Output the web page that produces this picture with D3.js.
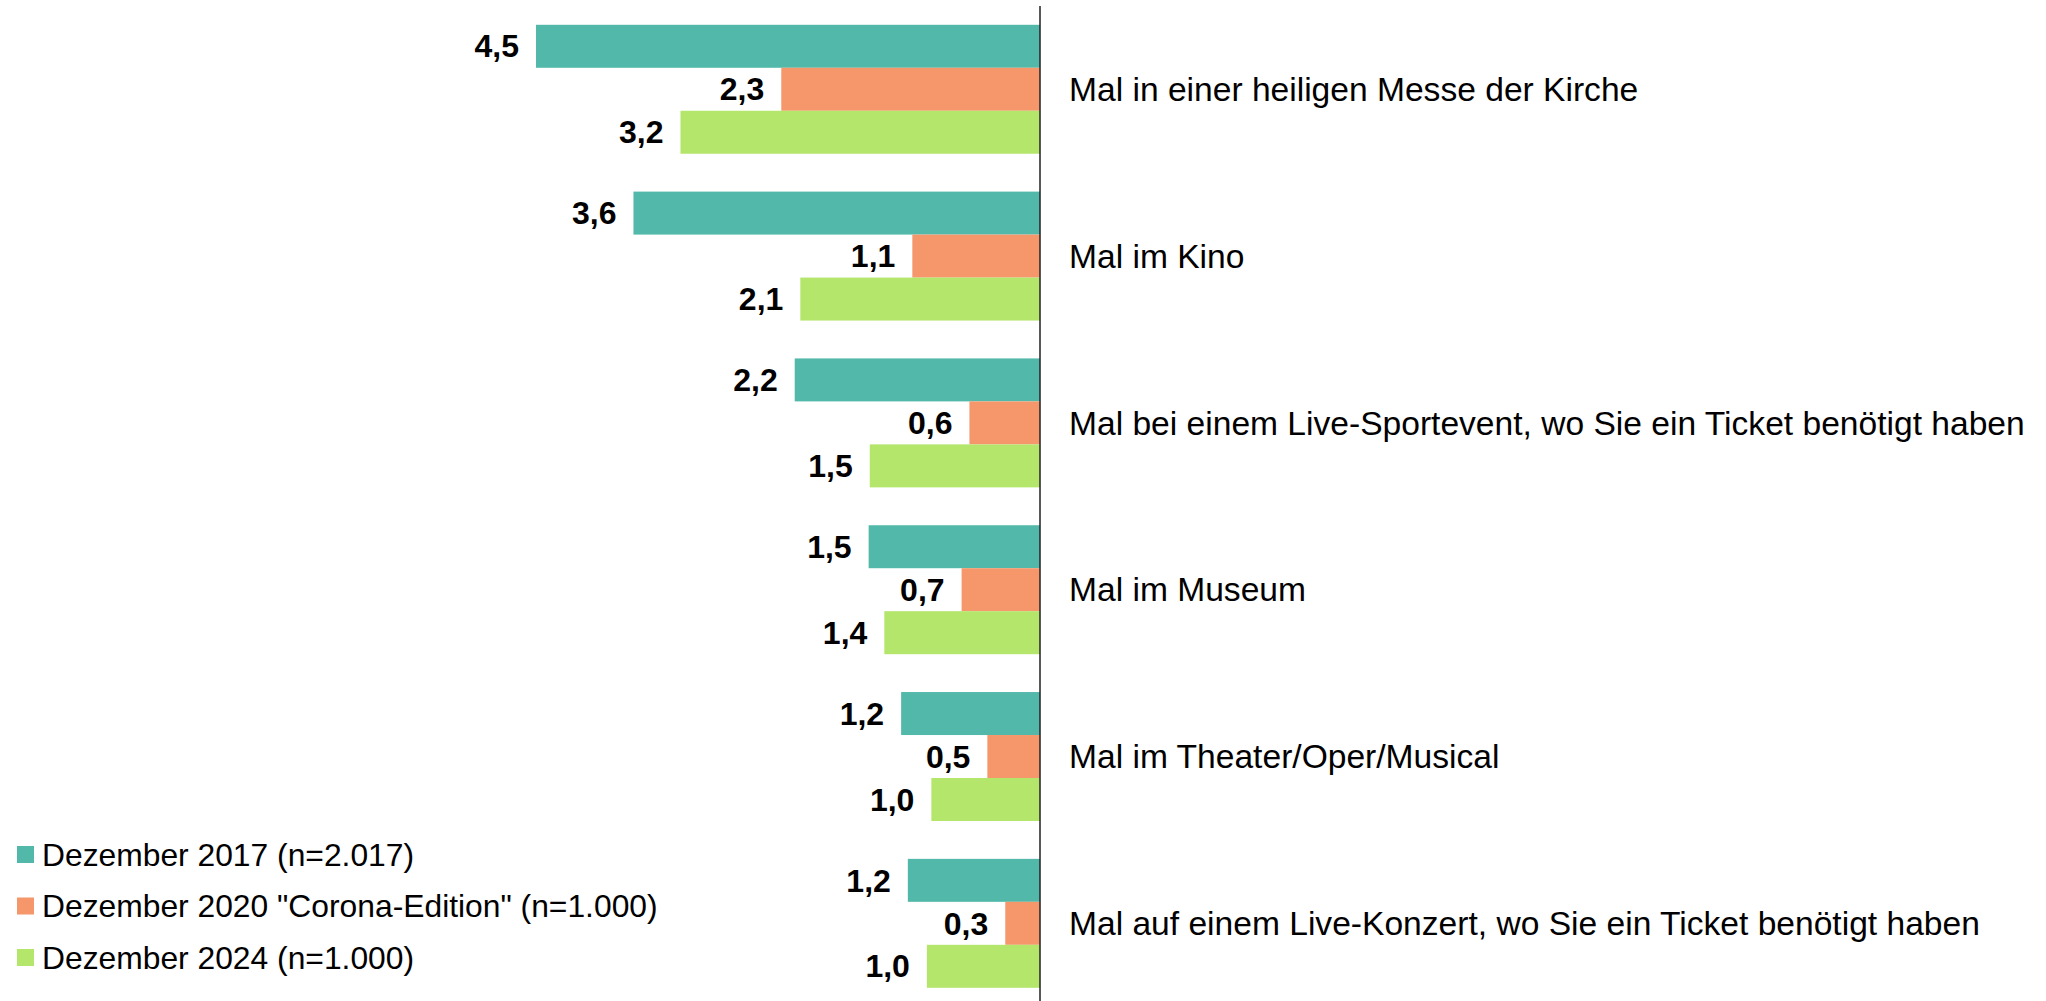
<!DOCTYPE html>
<html>
<head>
<meta charset="utf-8">
<style>
	body { margin: 0; background: #fff; }
	text { font-family: "Liberation Sans", Arial, sans-serif; fill: #000; }
</style>
</head>
<body>
<div id="chart-area"></div>
<script src="https://d3js.org/d3.v7.min.js"></script>
<script>
const WIDTH = 2046
const HEIGHT = 1001

// data
const categories = [
	"Mal in einer heiligen Messe der Kirche",
	"Mal im Kino",
	"Mal bei einem Live-Sportevent, wo Sie ein Ticket benötigt haben",
	"Mal im Museum",
	"Mal im Theater/Oper/Musical",
	"Mal auf einem Live-Konzert, wo Sie ein Ticket benötigt haben"
]
const series = ["Dezember 2017 (n=2.017)", "Dezember 2020 \"Corona-Edition\" (n=1.000)", "Dezember 2024 (n=1.000)"]
const values2017 = [4.50, 3.63, 2.19, 1.53, 1.24, 1.18]
const values2020 = [2.31, 1.14, 0.63, 0.70, 0.47, 0.31]
const values2024 = [3.21, 2.14, 1.52, 1.39, 0.97, 1.01]
const colors = ["#52b9aa", "#f5976a", "#b3e66a"]

const rows = categories.map((c, i) => ({
	cat: c,
	vals: [values2017[i], values2020[i], values2024[i]]
}))

const svg = d3.select("#chart-area").append("svg")
	.attr("width", WIDTH)
	.attr("height", HEIGHT)

// scales
const AXIS_X = 1040
const x = d3.scaleLinear().domain([0, 4.5]).range([AXIS_X, 536])
const y = d3.scaleBand()
	.domain(categories)
	.range([24.8, 987.8])
	.paddingInner(0.227)
	.paddingOuter(0)
const ySub = d3.scaleBand()
	.domain(d3.range(series.length))
	.range([0, y.bandwidth()])

const fmt = v => v.toFixed(1).replace(".", ",")

const groups = svg.selectAll("g.group")
	.data(rows)
	.enter().append("g")
	.attr("class", "group")
	.attr("transform", d => `translate(0, ${y(d.cat)})`)

groups.selectAll("rect")
	.data(d => d.vals)
	.enter().append("rect")
	.attr("x", v => x(v))
	.attr("y", (v, i) => ySub(i))
	.attr("width", v => AXIS_X - x(v))
	.attr("height", ySub.bandwidth())
	.attr("fill", (v, i) => colors[i])

groups.selectAll("text.value")
	.data(d => d.vals)
	.enter().append("text")
	.attr("class", "value")
	.attr("x", v => x(v) - 17)
	.attr("y", (v, i) => ySub(i) + ySub.bandwidth() / 2)
	.attr("dy", "0.35em")
	.attr("text-anchor", "end")
	.style("font-size", "32px")
	.style("font-weight", "bold")
	.text(v => fmt(v))

// category labels
groups.append("text")
	.attr("x", AXIS_X + 29)
	.attr("y", y.bandwidth() / 2)
	.attr("dy", "0.35em")
	.style("font-size", "33.6px")
	.text(d => d.cat)

// vertical axis line
svg.append("line")
	.attr("x1", AXIS_X)
	.attr("x2", AXIS_X)
	.attr("y1", 6)
	.attr("y2", HEIGHT)
	.attr("stroke", "#222")
	.attr("stroke-width", 1.5)

// legend
const legend = svg.append("g")
	.attr("transform", "translate(17, 846)")

const items = legend.selectAll("g")
	.data(series)
	.enter().append("g")
	.attr("transform", (d, i) => `translate(0, ${i * 51.5})`)

items.append("rect")
	.attr("width", 17)
	.attr("height", 17)
	.attr("fill", (d, i) => colors[i])

items.append("text")
	.attr("x", 25)
	.attr("y", 8.5)
	.attr("dy", "0.35em")
	.style("font-size", "31.8px")
	.text(d => d)
</script>
</body>
</html>
